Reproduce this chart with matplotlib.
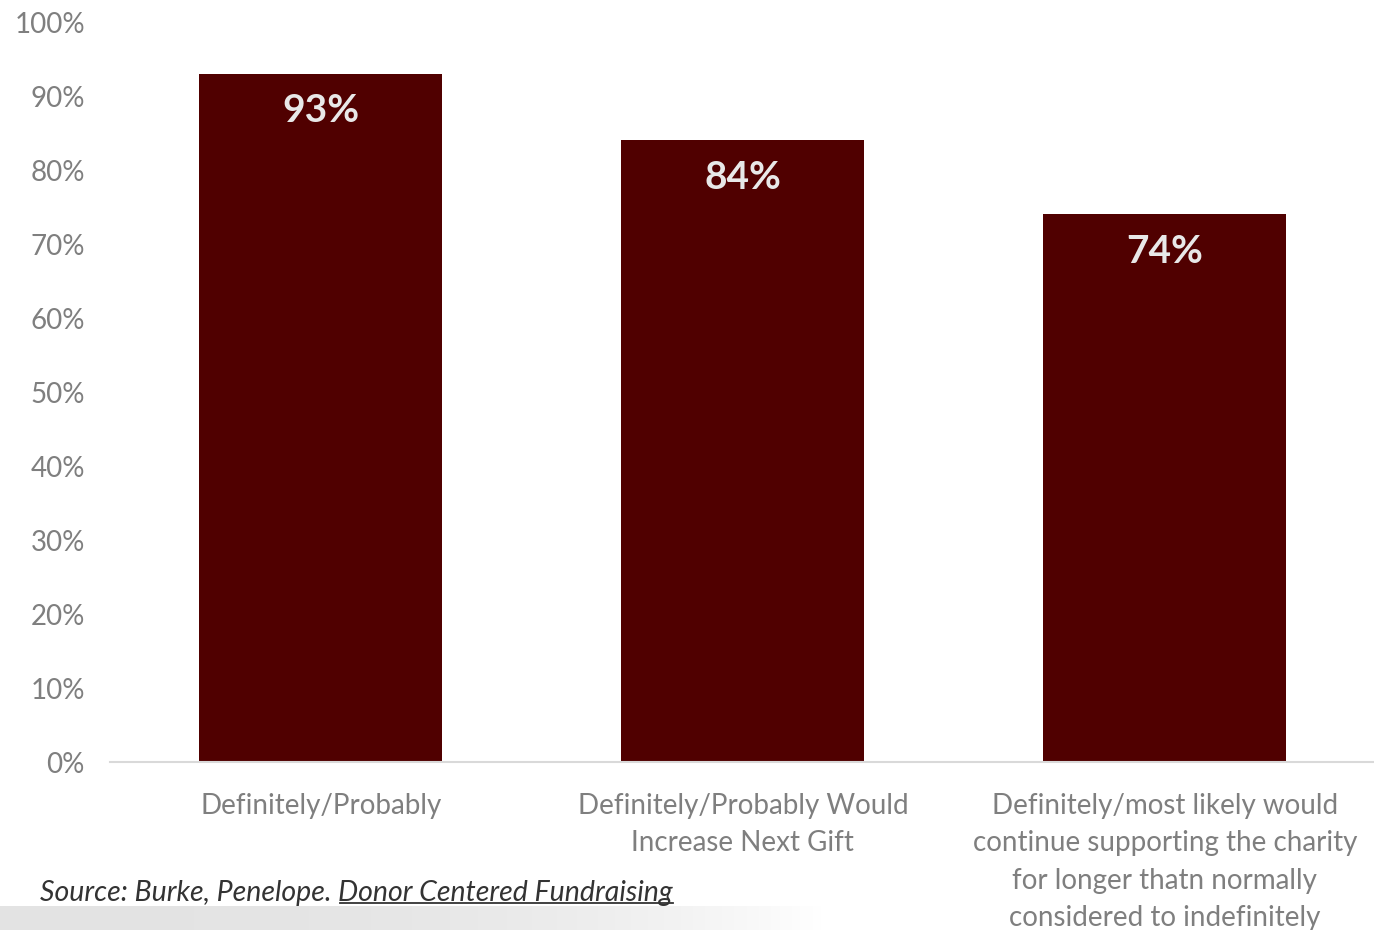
import numpy as np
import matplotlib
matplotlib.use("Agg")
import matplotlib.pyplot as plt

# data
categories = ["Definitely/Probably",
              "Definitely/Probably Would\nIncrease Next Gift",
              "Definitely/most likely would\ncontinue supporting the charity\nfor longer thatn normally\nconsidered to indefinitely"]
values = [93, 84, 74]
yticks = list(range(0, 101, 10))

plt.rcParams['font.family'] = ['Lato', 'DejaVu Sans']

fig = plt.figure(figsize=(13.74, 9.30), dpi=100)
ax = fig.add_axes([0.080, 0.1806, 0.9214, 0.7957])

x = np.arange(len(categories))
bars = ax.bar(x, values, width=0.576, color='#500000', zorder=2)

for xi, v in zip(x, values):
    ax.text(xi, v - 5.0, f"{v}%", ha='center', va='center', color='#e8e8e8',
            fontsize=28, fontweight='bold')

ax.set_xlim(-0.5, 2.5)
ax.set_ylim(0, 100)
ax.set_yticks(yticks)
ax.set_yticklabels([f"{t}%" for t in yticks], fontsize=20, color='#7f7f7f')
ax.set_xticks(x)
ax.set_xticklabels(categories, fontsize=20, color='#7f7f7f', linespacing=1.55,
                   va='top')
ax.tick_params(axis='both', length=0)
ax.tick_params(axis='y', pad=18)
ax.tick_params(axis='x', pad=22)

for s in ['top', 'right', 'left']:
    ax.spines[s].set_visible(False)
ax.spines['bottom'].set_color('#d9d9d9')
ax.spines['bottom'].set_linewidth(1.5)

# bottom gray gradient behind source
grad_ax = fig.add_axes([0, 0, 0.60, 0.026], zorder=-1)
g = np.linspace(0, 1, 200)
alpha = np.clip(1 - g ** 3, 0, 1)
img = np.zeros((1, 200, 4))
img[..., :3] = 0.82
img[..., 3] = alpha * 0.6
grad_ax.imshow(img, aspect='auto', extent=[0, 1, 0, 1])
grad_ax.axis('off')

# source line
t1 = fig.text(40 / 1374, 1 - 893 / 930, "Source: Burke, Penelope. ", fontsize=20.5,
              style='italic', color='#333333', va='center', ha='left')
fig.canvas.draw()
r = fig.canvas.get_renderer()
bb = t1.get_window_extent(r)
x2 = bb.x1 / fig.bbox.width
t2 = fig.text(x2, 1 - 893 / 930, "Donor Centered Fundraising", fontsize=20.5,
              style='italic', color='#333333', va='center', ha='left')
fig.canvas.draw()
bb2 = t2.get_window_extent(r)
yline = (bb2.y0 + 3) / fig.bbox.height
fig.add_artist(plt.Line2D([x2 + 2 / 1374, bb2.x1 / fig.bbox.width], [yline, yline],
                          color='#333333', lw=1.3))

fig.savefig("out.png", dpi=100)
